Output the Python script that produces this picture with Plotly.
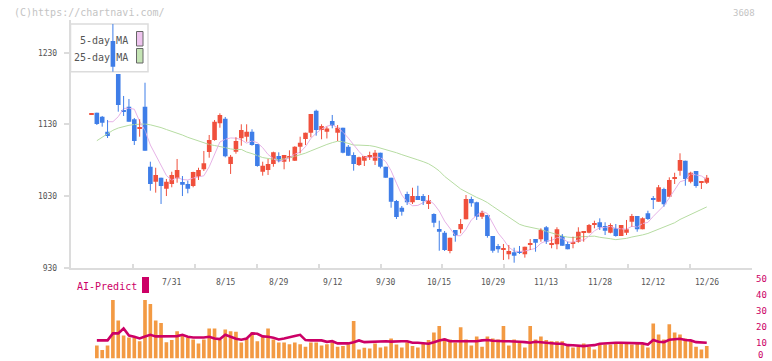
import plotly.graph_objects as go
import pandas as pd

# ---------------- data ----------------
idx = list(range(1, 117))

opens = [1144.0, 1146.3, 1140.7, 1119.8, 1246.3, 1200.3, 1150.0, 1154.7, 1137.1, 1124.5,
         1154.7, 1070.9, 1050.0, 1055.6, 1040.2, 1046.8, 1054.7, 1049.6, 1046.8, 1044.0,
         1057.0, 1067.3, 1091.5, 1108.2, 1131.5, 1137.8, 1074.7, 1091.9, 1110.6, 1112.8,
         1119.8, 1102.6, 1063.9, 1066.3, 1074.7, 1085.9, 1077.9, 1083.5, 1079.3, 1098.9,
         1109.6, 1118.4, 1149.1, 1122.1, 1119.8, 1134.7, 1118.4, 1125.3, 1098.9, 1087.3,
         1073.3, 1079.3, 1084.1, 1079.3, 1090.5, 1070.9, 1055.6, 1023.1, 1013.7, 1032.8,
         1021.3, 1030.0, 1030.0, 1018.9, 1005.0, 984.0, 978.9, 953.3, 982.6, 983.6,
         997.5, 1025.9, 1021.3, 1001.2, 1003.5, 974.2, 960.3, 955.2, 948.7, 951.5,
         953.3, 948.7, 962.1, 970.0, 969.6, 986.4, 962.1, 962.6, 974.2, 963.1,
         963.5, 966.3, 979.7, 978.9, 989.6, 993.4, 988.2, 978.9, 985.0, 974.2,
         978.9, 994.2, 1002.1, 983.6, 1005.9, 1026.8, 1022.1, 1039.8, 1029.1, 1053.8,
         1065.4, 1079.3, 1050.0, 1064.9, 1048.6, 1048.6]
highs = [1145.0, 1146.3, 1141.7, 1136.1, 1270.0, 1200.3, 1169.6, 1165.4, 1138.9, 1137.1,
         1188.1, 1077.9, 1069.5, 1055.6, 1053.8, 1063.9, 1081.7, 1057.9, 1051.4, 1063.9,
         1069.5, 1092.9, 1115.2, 1136.1, 1145.4, 1140.3, 1087.3, 1112.0, 1130.1, 1130.1,
         1123.1, 1102.6, 1077.9, 1081.7, 1091.9, 1091.0, 1087.3, 1093.8, 1099.5, 1112.8,
         1118.4, 1144.5, 1150.5, 1130.1, 1126.7, 1143.1, 1129.1, 1125.3, 1101.2, 1091.0,
         1084.9, 1085.9, 1091.9, 1094.2, 1090.5, 1070.9, 1055.6, 1024.5, 1016.1, 1036.1,
         1041.6, 1044.4, 1032.8, 1031.4, 1005.9, 995.6, 981.2, 971.9, 982.6, 997.9,
         1031.4, 1029.1, 1022.1, 1009.5, 1003.5, 974.2, 963.1, 963.1, 961.7, 957.9,
         960.3, 959.3, 970.0, 970.0, 985.0, 988.2, 973.3, 986.4, 977.0, 966.3,
         973.3, 986.4, 980.7, 991.0, 995.6, 998.9, 993.4, 991.9, 991.0, 989.6,
         996.6, 1005.0, 1002.1, 1000.3, 1009.5, 1030.0, 1045.4, 1041.6, 1056.1, 1062.5,
         1089.6, 1079.3, 1063.9, 1064.9, 1049.6, 1059.4]
lows = [1144.0, 1129.1, 1126.8, 1111.0, 1203.5, 1147.7, 1141.7, 1133.7, 1101.2, 1112.8,
        1093.3, 1037.4, 1034.7, 1018.9, 1030.0, 1042.2, 1048.6, 1030.0, 1033.8, 1042.2,
        1052.4, 1064.9, 1083.5, 1107.2, 1125.3, 1084.0, 1060.8, 1089.1, 1100.2, 1105.8,
        1100.2, 1070.9, 1058.4, 1059.4, 1070.9, 1077.1, 1067.3, 1077.9, 1078.9, 1089.6,
        1101.2, 1112.0, 1114.2, 1109.2, 1110.3, 1124.5, 1106.8, 1089.6, 1085.9, 1065.4,
        1071.9, 1071.9, 1080.3, 1073.3, 1068.7, 1055.6, 1013.7, 998.0, 1002.6, 1017.5,
        1018.9, 1024.5, 1017.5, 1011.9, 986.4, 953.7, 953.3, 950.1, 966.3, 978.0,
        997.5, 1015.1, 996.6, 998.0, 971.9, 950.9, 950.9, 940.8, 941.7, 937.0,
        949.1, 944.0, 954.7, 952.3, 966.3, 963.1, 957.1, 955.7, 960.7, 955.7,
        957.1, 964.9, 966.3, 978.0, 985.0, 982.6, 975.6, 978.0, 973.3, 974.2,
        975.6, 987.2, 980.2, 983.6, 996.6, 1011.9, 1022.1, 1015.1, 1029.1, 1046.8,
        1058.4, 1044.4, 1047.8, 1041.6, 1039.8, 1046.8]
closes = [1145.0, 1130.5, 1132.3, 1113.8, 1210.5, 1157.0, 1147.7, 1133.7, 1106.8, 1125.5,
          1093.3, 1046.8, 1059.4, 1044.0, 1050.0, 1059.4, 1066.3, 1045.8, 1040.2, 1063.5,
          1066.3, 1075.7, 1108.2, 1133.7, 1143.1, 1085.4, 1084.9, 1106.8, 1122.1, 1119.8,
          1101.2, 1071.9, 1072.3, 1074.7, 1091.0, 1079.3, 1087.3, 1085.9, 1098.9, 1104.4,
          1118.4, 1144.5, 1122.1, 1127.7, 1124.2, 1128.1, 1125.3, 1090.5, 1086.3, 1074.7,
          1084.1, 1085.9, 1087.3, 1090.5, 1070.9, 1055.6, 1022.1, 1000.8, 1008.1, 1021.3,
          1030.0, 1024.5, 1023.1, 1024.5, 992.8, 980.2, 954.7, 971.9, 974.7, 991.0,
          1025.9, 1019.9, 1001.2, 1006.8, 974.2, 953.7, 955.7, 956.2, 953.3, 946.7,
          950.9, 959.3, 963.1, 964.9, 982.6, 966.3, 963.1, 983.6, 960.7, 955.7,
          964.5, 980.2, 980.7, 989.6, 991.9, 986.4, 981.6, 989.6, 974.2, 989.6,
          983.6, 1002.1, 983.6, 998.9, 998.0, 1025.4, 1042.2, 1018.5, 1052.4, 1056.1,
          1080.3, 1053.8, 1062.5, 1044.0, 1049.6, 1055.6]

# moving-average values visible before enough candles are on screen
ma5_head = [None, None, None, 1133.7, 1133.7, 1140.7]
ma25_head = [None, 1107.2, 1111.9, 1117.3, 1121.7, 1124.9, 1127.0, 1128.7, 1129.8, 1130.2,
             1130.5, 1129.4, 1127.7, 1125.5, 1122.8, 1120.5, 1117.9, 1115.1, 1111.9, 1109.2,
             1106.5, 1104.0, 1101.9, 1100.5, 1099.4]

volume = [None, 8.2, 5.3, 8.2, 36.8, 24.0, 14.5, 13.2, 13.2, 10.9,
          36.8, 34.3, 24.0, 22.3, 10.3, 11.6, 17.2, 14.5, 13.2, 12.0,
          9.5, 12.0, 18.9, 18.9, 12.0, 18.3, 17.2, 16.8, 10.1, 12.6,
          16.4, 10.9, 13.9, 18.9, 12.0, 10.1, 10.1, 9.0, 10.1, 9.0,
          7.4, 10.1, 10.1, 8.2, 9.0, 10.1, 7.4, 7.8, 9.0, 23.6,
          5.7, 6.7, 6.3, 9.5, 6.9, 7.6, 12.6, 8.8, 6.9, 10.3,
          7.8, 6.9, 9.9, 11.6, 16.4, 20.4, 12.6, 12.0, 10.1, 19.6,
          12.0, 8.2, 13.9, 7.4, 13.9, 12.6, 12.0, 20.4, 8.2, 12.0,
          10.9, 6.9, 20.4, 12.0, 13.9, 11.6, 10.9, 10.9, 10.9, 7.8,
          6.9, 7.4, 9.5, 7.4, 5.7, 8.8, 8.8, 8.8, 9.9, 9.9,
          9.9, 8.8, 9.9, 8.8, 6.9, 22.1, 15.1, 12.0, 21.5, 16.4,
          15.1, 12.6, 10.9, 7.4, 5.7, 7.8]
ai_predict = [None, 11.4, 11.4, 11.4, 15.8, 15.8, 18.9, 14.5, 13.7, 12.6,
              13.9, 14.9, 13.9, 13.9, 14.1, 13.7, 14.1, 14.9, 13.7, 13.2,
              13.2, 13.2, 13.7, 12.6, 12.2, 14.9, 13.7, 12.4, 11.8, 12.6,
              15.8, 15.6, 13.9, 13.7, 13.0, 12.0, 12.6, 13.2, 14.1, 14.9,
              11.6, 11.4, 11.4, 11.4, 10.5, 10.9, 9.5, 9.5, 9.5, 10.3,
              11.4, 10.3, 10.5, 10.9, 10.9, 10.9, 10.6, 10.9, 10.9, 10.9,
              9.9, 9.9, 9.6, 9.3, 10.3, 11.4, 12.0, 10.9, 10.9, 10.9,
              10.9, 10.9, 10.9, 11.4, 11.6, 11.2, 10.9, 10.9, 10.9, 10.9,
              10.5, 10.3, 9.9, 10.5, 10.2, 9.9, 9.3, 9.3, 9.3, 8.4,
              8.3, 8.2, 7.8, 8.2, 8.4, 9.3, 9.6, 9.9, 9.9, 9.9,
              9.9, 9.9, 9.9, 9.5, 8.8, 11.6, 10.5, 10.3, 11.8, 12.2,
              12.4, 11.6, 11.4, 10.3, 9.9, 9.9]

date_idx = [16, 26, 36, 46, 56, 66, 76, 86, 96, 106, 116]
date_labels = ["7/31", "8/15", "8/29", "9/12", "9/30", "10/15", "10/29",
               "11/13", "11/28", "12/12", "12/26"]
price_ticks = [930, 1030, 1130, 1230]
vol_ticks = [10, 20, 30, 40, 50]
vol_zero_label = "0"

# moving averages from closes (where enough candles are on screen)
s = pd.Series(closes)
ma5 = ma5_head + [round(v, 2) for v in s.rolling(5).mean().iloc[len(ma5_head):]]
ma25 = ma25_head + [round(v, 2) for v in s.rolling(25).mean().iloc[len(ma25_head):]]

# ---------------- styling ----------------
W, H = 772, 361
RED = "#f0503c"
BLUE = "#3f7ee8"
PINK = "#e6b2e6"
GREEN = "#b6dca2"
MAG = "#cc0066"
ORANGE = "#f39a43"
AXC = "#dcdcdc"
MONO = "DejaVu Sans Mono"

def PX(x):
    return x / W

def PY(y):
    return 1 - y / H

x_range = [-2.925, 124.458]
# decorative tick marks along the bottom axis (every ~11.57 candles)
grid_ticks = [-2.83 + 11.57 * k for k in range(12)]

fig = go.Figure()

# moving averages
fig.add_trace(go.Scatter(x=idx, y=ma25, mode="lines", line=dict(color=GREEN, width=1),
                         xaxis="x", yaxis="y", hoverinfo="skip"))
fig.add_trace(go.Scatter(x=idx, y=ma5, mode="lines", line=dict(color=PINK, width=1),
                         xaxis="x", yaxis="y", hoverinfo="skip"))

# candles: wicks + bodies
for up, color in ((True, RED), (False, BLUE)):
    wx, wy, bx, bb, bh = [], [], [], [], []
    for i, o, h, l, c in zip(idx, opens, highs, lows, closes):
        if (c >= o) != up:
            continue
        wx += [i, i, None]
        wy += [l, h, None]
        bx.append(i)
        bb.append(min(o, c))
        bh.append(max(abs(c - o), 1.6))
    fig.add_trace(go.Scatter(x=wx, y=wy, mode="lines", line=dict(color=color, width=1),
                             xaxis="x", yaxis="y", hoverinfo="skip"))
    fig.add_trace(go.Bar(x=bx, y=bh, base=bb, width=0.86, marker=dict(color=color, line=dict(width=0)),
                         xaxis="x", yaxis="y"))

# volume + AI predict
fig.add_trace(go.Bar(x=idx, y=volume, width=0.68, marker=dict(color=ORANGE, line=dict(width=0)),
                     xaxis="x2", yaxis="y2"))
fig.add_trace(go.Scatter(x=idx, y=ai_predict, mode="lines", line=dict(color=MAG, width=2.6),
                         xaxis="x2", yaxis="y2", hoverinfo="skip"))

shapes = [
    # legend box
    dict(type="rect", xref="paper", yref="paper", x0=PX(70.5), x1=PX(148), y0=PY(71.7), y1=PY(24),
         line=dict(color=AXC, width=1.5), fillcolor="white", layer="below"),
    dict(type="rect", xref="paper", yref="paper", x0=PX(136.5), x1=PX(143), y0=PY(46), y1=PY(31.5),
         line=dict(color="#666", width=1), fillcolor="#eec4ee", layer="below"),
    dict(type="rect", xref="paper", yref="paper", x0=PX(136.5), x1=PX(143), y0=PY(63), y1=PY(48.5),
         line=dict(color="#666", width=1), fillcolor="#c4e4b4", layer="below"),
    # AI-Predict marker
    dict(type="rect", xref="paper", yref="paper", x0=PX(142), x1=PX(149), y0=PY(293), y1=PY(277),
         line=dict(width=0), fillcolor=MAG),
]

annotations = [
    dict(text="(C)https://chartnavi.com/", x=PX(12), y=PY(12.5), xref="paper", yref="paper",
         xanchor="left", yanchor="middle", showarrow=False, font=dict(family=MONO, size=10, color="#c4c4c4")),
    dict(text="3608", x=PX(757), y=PY(12.5), xref="paper", yref="paper",
         xanchor="right", yanchor="middle", showarrow=False, font=dict(family=MONO, size=9, color="#c4c4c4")),
    dict(text="5-day MA", x=PX(130), y=PY(40), xref="paper", yref="paper",
         xanchor="right", yanchor="middle", showarrow=False, font=dict(family=MONO, size=10, color="#555")),
    dict(text="25-day MA", x=PX(130), y=PY(57), xref="paper", yref="paper",
         xanchor="right", yanchor="middle", showarrow=False, font=dict(family=MONO, size=10, color="#555")),
    dict(text="AI-Predict", x=PX(75), y=PY(286), xref="paper", yref="paper",
         xanchor="left", yanchor="middle", showarrow=False, font=dict(family=MONO, size=10, color=MAG)),
    # zero label of the volume scale (kept inside the page edge)
    dict(text=vol_zero_label, x=PX(756), y=PY(355), xref="paper", yref="paper",
         xanchor="left", yanchor="middle", showarrow=False, font=dict(family=MONO, size=9, color=MAG)),
]
for i, lab in zip(date_idx, date_labels):
    annotations.append(dict(text=lab, x=i, y=PY(282), xref="x", yref="paper", xanchor="center",
                            yanchor="middle", showarrow=False,
                            font=dict(family=MONO, size=8, color="#555")))

fig.update_layout(
    width=W, height=H, margin=dict(l=0, r=0, t=0, b=0),
    paper_bgcolor="white", plot_bgcolor="white", showlegend=False, barmode="overlay",
    shapes=shapes, annotations=annotations,
    xaxis=dict(domain=[PX(70.5), PX(752)], range=x_range, anchor="y",
               showline=True, linecolor=AXC, linewidth=1.5, showgrid=False, zeroline=False,
               tickmode="array", tickvals=grid_ticks, showticklabels=False,
               ticks="inside", ticklen=4, tickcolor=AXC, tickwidth=1.5, automargin=False),
    yaxis=dict(domain=[PY(268), PY(20)], range=[929.59, 1275.62], anchor="x",
               showline=True, linecolor=AXC, linewidth=1.5, showgrid=False, zeroline=False,
               tickmode="array", tickvals=price_ticks, ticks="outside", ticklen=5,
               tickcolor=AXC, tickwidth=1.5, tickfont=dict(family=MONO, size=8, color="#555"),
               ticklabelstandoff=5, automargin=False),
    xaxis2=dict(domain=[PX(70.5), PX(752)], range=x_range, anchor="y2", visible=False),
    yaxis2=dict(domain=[PY(358.5), PY(275.9)], range=[0, 52], anchor="x2", side="right",
                showline=False, showgrid=False, zeroline=False, tickmode="array", tickvals=vol_ticks,
                ticks="", tickfont=dict(family=MONO, size=9, color=MAG), ticklabelstandoff=3,
                automargin=False),
)

fig.write_html("out.html", config={"displayModeBar": False},
               post_script="document.body.style.margin='0';document.body.style.overflow='hidden';")
